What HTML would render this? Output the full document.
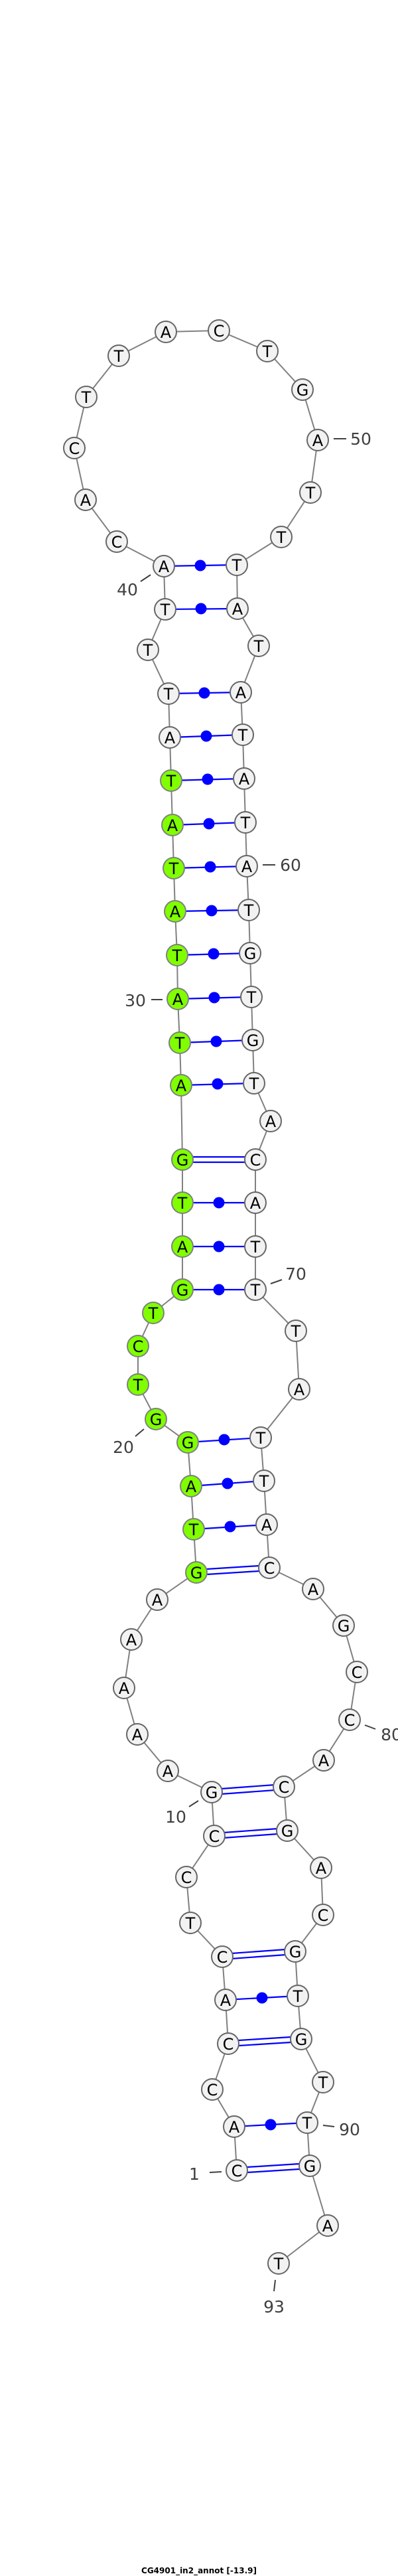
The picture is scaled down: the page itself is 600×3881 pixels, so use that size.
<!DOCTYPE html>
<html><head><meta charset="utf-8"><style>html,body{margin:0;padding:0;background:#fff}svg{display:block}</style></head>
<body>
<svg width="600" height="3881" viewBox="0 0 600 3881" xmlns="http://www.w3.org/2000/svg">
<rect width="600" height="3881" fill="#fff"/>
<polyline fill="none" stroke="#808080" stroke-width="2" points="357,3270 353,3204 320,3148 344,3079 340,3013 335,2948 287,2897 281,2828 323,2766 319,2700 253,2668 207,2613 187,2543 198,2470 237,2410 296,2369 292,2304 288,2239 283,2173 235,2138 208,2086 208,2028 231,1978 275,1943 275,1878 275,1812 275,1747 273,1635 271,1571 268,1505 267,1439 264,1373 262,1308 260,1243 258,1176 256,1111 254,1045 223,979 249,918 247,853 176,816 129,753 112,675 130,598 179,536 250,500 330,498 403,529 456,587 479,663 468,742 424,809 357,851 358,917 390,973 363,1043 366,1107 368,1173 370,1239 372,1305 375,1371 377,1436 379,1502 381,1567 383,1632 408,1689 385,1747 385,1812 385,1878 385,1943 446,2005 451,2093 393,2166 398,2231 402,2297 406,2362 472,2394 518,2449 538,2519 527,2591 488,2652 428,2692 433,2758 484,2814 487,2885 445,2940 449,3007 454,3072 487,3137 463,3198 467,3263 494,3353 420,3410"/>
<g stroke="#0000ff" stroke-width="2.2">
<!-- double GC pairs -->
<line x1="357" y1="3266" x2="467" y2="3259"/><line x1="357" y1="3274" x2="467" y2="3267"/>
<line x1="344" y1="3075" x2="454" y2="3068"/><line x1="344" y1="3083" x2="454" y2="3076"/>
<line x1="335" y1="2944" x2="445" y2="2936"/><line x1="335" y1="2952" x2="445" y2="2944"/>
<line x1="323" y1="2762" x2="433" y2="2754"/><line x1="323" y1="2770" x2="433" y2="2762"/>
<line x1="319" y1="2696" x2="428" y2="2688"/><line x1="319" y1="2704" x2="428" y2="2696"/>
<line x1="296" y1="2365" x2="406" y2="2358"/><line x1="296" y1="2373" x2="406" y2="2366"/>
<line x1="275" y1="1743" x2="385" y2="1743"/><line x1="275" y1="1751" x2="385" y2="1751"/>
<!-- single pairs -->
<line x1="353" y1="3204" x2="463" y2="3198"/>
<line x1="340" y1="3013" x2="449" y2="3007"/>
<line x1="292" y1="2304" x2="402" y2="2297"/>
<line x1="288" y1="2239" x2="398" y2="2231"/>
<line x1="283" y1="2173" x2="393" y2="2166"/>
<line x1="275" y1="1943" x2="385" y2="1943"/>
<line x1="275" y1="1878" x2="385" y2="1878"/>
<line x1="275" y1="1812" x2="385" y2="1812"/>
<line x1="273" y1="1635" x2="383" y2="1632"/>
<line x1="271" y1="1571" x2="381" y2="1567"/>
<line x1="268" y1="1505" x2="379" y2="1502"/>
<line x1="267" y1="1439" x2="377" y2="1436"/>
<line x1="264" y1="1373" x2="375" y2="1371"/>
<line x1="262" y1="1308" x2="372" y2="1305"/>
<line x1="260" y1="1243" x2="370" y2="1239"/>
<line x1="258" y1="1176" x2="368" y2="1173"/>
<line x1="256" y1="1111" x2="366" y2="1107"/>
<line x1="254" y1="1045" x2="363" y2="1043"/>
<line x1="249" y1="918" x2="358" y2="917"/>
<line x1="247" y1="853" x2="357" y2="851"/>
</g>
<g fill="#0000ff">
<circle cx="408" cy="3201" r="8.5"/><circle cx="395" cy="3010" r="8.5"/>
<circle cx="347" cy="2300" r="8.5"/><circle cx="343" cy="2235" r="8.5"/><circle cx="338" cy="2169" r="8.5"/>
<circle cx="330" cy="1943" r="8.5"/><circle cx="330" cy="1878" r="8.5"/><circle cx="330" cy="1812" r="8.5"/>
<circle cx="328" cy="1633" r="8.5"/><circle cx="326" cy="1569" r="8.5"/><circle cx="323" cy="1503" r="8.5"/>
<circle cx="322" cy="1437" r="8.5"/><circle cx="319" cy="1372" r="8.5"/><circle cx="317" cy="1306" r="8.5"/>
<circle cx="315" cy="1241" r="8.5"/><circle cx="313" cy="1174" r="8.5"/><circle cx="311" cy="1109" r="8.5"/>
<circle cx="308" cy="1044" r="8.5"/><circle cx="303" cy="917" r="8.5"/><circle cx="302" cy="852" r="8.5"/>
</g>
<!-- ticks -->
<g stroke="#404040" stroke-width="2">
<line x1="316" y1="3273" x2="334" y2="3272"/>
<line x1="487" y1="3202" x2="504" y2="3204"/>
<line x1="285" y1="2722" x2="299" y2="2713"/>
<line x1="550" y1="2599" x2="566" y2="2605"/>
<line x1="204" y1="2164" x2="217" y2="2153"/>
<line x1="408" y1="1934" x2="425" y2="1928"/>
<line x1="228" y1="1506" x2="245" y2="1506"/>
<line x1="396" y1="1303" x2="415" y2="1303"/>
<line x1="212" y1="876" x2="227" y2="866"/>
<line x1="503" y1="661" x2="522" y2="661"/>
<line x1="415" y1="3435" x2="413" y2="3452"/>
</g>
<g font-family="'DejaVu Sans','Liberation Sans',sans-serif" font-size="25" fill="#404040" text-anchor="middle">
<text x="293" y="3284">1</text>
<text x="527" y="3217">90</text>
<text x="265" y="2746">10</text>
<text x="590" y="2622">80</text>
<text x="186" y="2189">20</text>
<text x="446" y="1928">70</text>
<text x="204" y="1516">30</text>
<text x="438" y="1312">60</text>
<text x="192" y="897">40</text>
<text x="544" y="670">50</text>
<text x="413" y="3484">93</text>
</g>
<g stroke="#666" stroke-width="2" fill="#f2f2f2">
<circle cx="357" cy="3270" r="16"/><circle cx="353" cy="3204" r="16"/><circle cx="320" cy="3148" r="16"/><circle cx="344" cy="3079" r="16"/><circle cx="340" cy="3013" r="16"/><circle cx="335" cy="2948" r="16"/><circle cx="287" cy="2897" r="16"/><circle cx="281" cy="2828" r="16"/><circle cx="323" cy="2766" r="16"/><circle cx="319" cy="2700" r="16"/><circle cx="253" cy="2668" r="16"/><circle cx="207" cy="2613" r="16"/><circle cx="187" cy="2543" r="16"/><circle cx="198" cy="2470" r="16"/><circle cx="237" cy="2410" r="16"/>
<circle cx="256" cy="1111" r="16"/><circle cx="254" cy="1045" r="16"/><circle cx="223" cy="979" r="16"/><circle cx="249" cy="918" r="16"/><circle cx="247" cy="853" r="16"/><circle cx="176" cy="816" r="16"/><circle cx="129" cy="753" r="16"/><circle cx="112" cy="675" r="16"/><circle cx="130" cy="598" r="16"/><circle cx="179" cy="536" r="16"/><circle cx="250" cy="500" r="16"/><circle cx="330" cy="498" r="16"/><circle cx="403" cy="529" r="16"/><circle cx="456" cy="587" r="16"/><circle cx="479" cy="663" r="16"/><circle cx="468" cy="742" r="16"/><circle cx="424" cy="809" r="16"/><circle cx="357" cy="851" r="16"/><circle cx="358" cy="917" r="16"/><circle cx="390" cy="973" r="16"/><circle cx="363" cy="1043" r="16"/><circle cx="366" cy="1107" r="16"/><circle cx="368" cy="1173" r="16"/><circle cx="370" cy="1239" r="16"/><circle cx="372" cy="1305" r="16"/><circle cx="375" cy="1371" r="16"/><circle cx="377" cy="1436" r="16"/><circle cx="379" cy="1502" r="16"/><circle cx="381" cy="1567" r="16"/><circle cx="383" cy="1632" r="16"/><circle cx="408" cy="1689" r="16"/><circle cx="385" cy="1747" r="16"/><circle cx="385" cy="1812" r="16"/><circle cx="385" cy="1878" r="16"/><circle cx="385" cy="1943" r="16"/><circle cx="446" cy="2005" r="16"/><circle cx="451" cy="2093" r="16"/><circle cx="393" cy="2166" r="16"/><circle cx="398" cy="2231" r="16"/><circle cx="402" cy="2297" r="16"/><circle cx="406" cy="2362" r="16"/><circle cx="472" cy="2394" r="16"/><circle cx="518" cy="2449" r="16"/><circle cx="538" cy="2519" r="16"/><circle cx="527" cy="2591" r="16"/><circle cx="488" cy="2652" r="16"/><circle cx="428" cy="2692" r="16"/><circle cx="433" cy="2758" r="16"/><circle cx="484" cy="2814" r="16"/><circle cx="487" cy="2885" r="16"/><circle cx="445" cy="2940" r="16"/><circle cx="449" cy="3007" r="16"/><circle cx="454" cy="3072" r="16"/><circle cx="487" cy="3137" r="16"/><circle cx="463" cy="3198" r="16"/><circle cx="467" cy="3263" r="16"/><circle cx="494" cy="3353" r="16"/><circle cx="420" cy="3410" r="16"/>
</g>
<g stroke="#808080" stroke-width="2" fill="#7fff00">
<circle cx="296" cy="2369" r="16"/><circle cx="292" cy="2304" r="16"/><circle cx="288" cy="2239" r="16"/><circle cx="283" cy="2173" r="16"/><circle cx="235" cy="2138" r="16"/><circle cx="208" cy="2086" r="16"/><circle cx="208" cy="2028" r="16"/><circle cx="231" cy="1978" r="16"/><circle cx="275" cy="1943" r="16"/><circle cx="275" cy="1878" r="16"/><circle cx="275" cy="1812" r="16"/><circle cx="275" cy="1747" r="16"/><circle cx="273" cy="1635" r="16"/><circle cx="271" cy="1571" r="16"/><circle cx="268" cy="1505" r="16"/><circle cx="267" cy="1439" r="16"/><circle cx="264" cy="1373" r="16"/><circle cx="262" cy="1308" r="16"/><circle cx="260" cy="1243" r="16"/><circle cx="258" cy="1176" r="16"/>
</g>
<g font-family="'DejaVu Sans','Liberation Sans',sans-serif" font-size="24" fill="#000" text-anchor="middle">
<text x="357" y="3279">C</text><text x="353" y="3213">A</text><text x="320" y="3157">C</text><text x="344" y="3088">C</text><text x="340" y="3022">A</text><text x="335" y="2957">C</text><text x="287" y="2906">T</text><text x="281" y="2837">C</text><text x="323" y="2775">C</text><text x="319" y="2709">G</text><text x="253" y="2677">A</text><text x="207" y="2622">A</text><text x="187" y="2552">A</text><text x="198" y="2479">A</text><text x="237" y="2419">A</text>
<text x="296" y="2378">G</text><text x="292" y="2313">T</text><text x="288" y="2248">A</text><text x="283" y="2182">G</text><text x="235" y="2147">G</text><text x="208" y="2095">T</text><text x="208" y="2037">C</text><text x="231" y="1987">T</text><text x="275" y="1952">G</text><text x="275" y="1887">A</text><text x="275" y="1821">T</text><text x="275" y="1756">G</text><text x="273" y="1644">A</text><text x="271" y="1580">T</text><text x="268" y="1514">A</text><text x="267" y="1448">T</text><text x="264" y="1382">A</text><text x="262" y="1317">T</text><text x="260" y="1252">A</text><text x="258" y="1185">T</text>
<text x="256" y="1120">A</text><text x="254" y="1054">T</text><text x="223" y="988">T</text><text x="249" y="927">T</text><text x="247" y="862">A</text><text x="176" y="825">C</text><text x="129" y="762">A</text><text x="112" y="684">C</text><text x="130" y="607">T</text><text x="179" y="545">T</text><text x="250" y="509">A</text><text x="330" y="507">C</text><text x="403" y="538">T</text><text x="456" y="596">G</text><text x="479" y="672">A</text><text x="468" y="751">T</text><text x="424" y="818">T</text><text x="357" y="860">T</text><text x="358" y="926">A</text><text x="390" y="982">T</text><text x="363" y="1052">A</text><text x="366" y="1116">T</text><text x="368" y="1182">A</text><text x="370" y="1248">T</text><text x="372" y="1314">A</text><text x="375" y="1380">T</text><text x="377" y="1445">G</text><text x="379" y="1511">T</text><text x="381" y="1576">G</text><text x="383" y="1641">T</text><text x="408" y="1698">A</text><text x="385" y="1756">C</text><text x="385" y="1821">A</text><text x="385" y="1887">T</text><text x="385" y="1952">T</text><text x="446" y="2014">T</text><text x="451" y="2102">A</text><text x="393" y="2175">T</text><text x="398" y="2240">T</text><text x="402" y="2306">A</text><text x="406" y="2371">C</text><text x="472" y="2403">A</text><text x="518" y="2458">G</text><text x="538" y="2528">C</text><text x="527" y="2600">C</text><text x="488" y="2661">A</text><text x="428" y="2701">C</text><text x="433" y="2767">G</text><text x="484" y="2823">A</text><text x="487" y="2894">C</text><text x="445" y="2949">G</text><text x="449" y="3016">T</text><text x="454" y="3081">G</text><text x="487" y="3146">T</text><text x="463" y="3207">T</text><text x="467" y="3272">G</text><text x="494" y="3362">A</text><text x="420" y="3419">T</text>
</g>
<text x="300" y="3877" font-family="'DejaVu Sans','Liberation Sans',sans-serif" font-size="12" font-weight="bold" fill="#000" text-anchor="middle">CG4901_in2_annot [-13.9]</text>
</svg>
</body></html>
